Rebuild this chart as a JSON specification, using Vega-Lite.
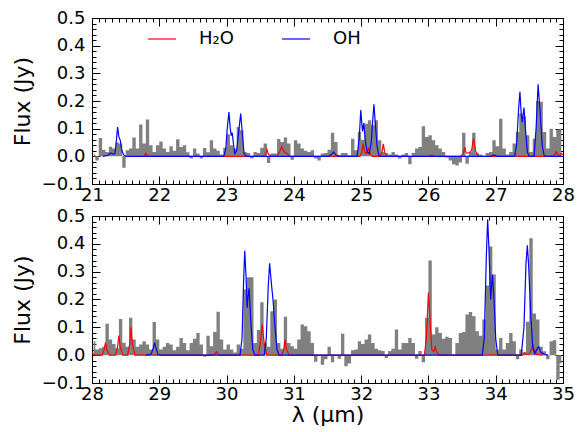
{
"$schema": "https://vega.github.io/schema/vega-lite/v6.json",
"padding": {"left": 10, "top": 8, "right": 8, "bottom": 2},
"bounds": "flush",
"spacing": 32,
"config": {
  "font": "DejaVu Sans",
  "view": {"stroke": "#000000", "strokeWidth": 1},
  "axis": {"labelFont": "DejaVu Sans", "labelFontSize": 18, "labelColor": "#000000", "tickColor": "#000000", "tickWidth": 1, "domain": false, "grid": false, "titleFont": "DejaVu Sans", "titleFontSize": 22, "titleFontWeight": "normal", "titleColor": "#000000", "labelFlush": false, "labelOverlap": false},
  "legend": {"labelFont": "DejaVu Sans", "labelFontSize": 18, "labelColor": "#000000"}
},
"resolve": {"scale": {"color": "independent"}, "legend": {"color": "independent"}},
"datasets": {
 "obs1": [
{"lam":21.025,"f":0.007},{"lam":21.075,"f":-0.015},{"lam":21.125,"f":0.066},{"lam":21.175,"f":0.024},{"lam":21.225,"f":0.016},{"lam":21.275,"f":0.035},{"lam":21.325,"f":0.028},{"lam":21.375,"f":0.05},{"lam":21.425,"f":0.046},{"lam":21.475,"f":-0.041},
{"lam":21.525,"f":0.022},{"lam":21.575,"f":0.028},{"lam":21.625,"f":0.068},{"lam":21.675,"f":0.028},{"lam":21.725,"f":0.115},{"lam":21.775,"f":0.046},{"lam":21.825,"f":0.133},{"lam":21.875,"f":0.04},{"lam":21.925,"f":0.016},{"lam":21.975,"f":0.04},
{"lam":22.025,"f":0.054},{"lam":22.075,"f":0.028},{"lam":22.125,"f":0.016},{"lam":22.175,"f":0.036},{"lam":22.225,"f":0.02},{"lam":22.275,"f":0.062},{"lam":22.325,"f":0.034},{"lam":22.375,"f":0.04},{"lam":22.425,"f":0.015},{"lam":22.475,"f":-0.008},
{"lam":22.525,"f":0.028},{"lam":22.575,"f":0.01},{"lam":22.625,"f":-0.008},{"lam":22.675,"f":0.03},{"lam":22.725,"f":0.015},{"lam":22.775,"f":0.058},{"lam":22.825,"f":0.028},{"lam":22.875,"f":0.02},{"lam":22.925,"f":0.007},{"lam":22.975,"f":0.031},
{"lam":23.025,"f":0.08},{"lam":23.075,"f":0.04},{"lam":23.125,"f":0.028},{"lam":23.175,"f":0.106},{"lam":23.225,"f":0.094},{"lam":23.275,"f":0.016},{"lam":23.325,"f":0.012},{"lam":23.375,"f":-0.008},{"lam":23.425,"f":0.016},{"lam":23.475,"f":0.012},
{"lam":23.525,"f":0.031},{"lam":23.575,"f":0.046},{"lam":23.625,"f":-0.024},{"lam":23.675,"f":0.01},{"lam":23.725,"f":0.01},{"lam":23.775,"f":0.063},{"lam":23.825,"f":0.052},{"lam":23.875,"f":0.068},{"lam":23.925,"f":0.046},{"lam":23.975,"f":-0.012},
{"lam":24.025,"f":0.058},{"lam":24.075,"f":0.046},{"lam":24.125,"f":0.028},{"lam":24.175,"f":0.02},{"lam":24.225,"f":0.016},{"lam":24.275,"f":0.022},{"lam":24.325,"f":-0.008},{"lam":24.375,"f":-0.015},{"lam":24.425,"f":0.01},{"lam":24.475,"f":0.012},
{"lam":24.525,"f":0.024},{"lam":24.575,"f":0.085},{"lam":24.625,"f":0.052},{"lam":24.675,"f":0.006},{"lam":24.725,"f":0.012},{"lam":24.775,"f":0.012},{"lam":24.825,"f":0.004},{"lam":24.875,"f":0.064},{"lam":24.925,"f":0.022},{"lam":24.975,"f":0.088},
{"lam":25.025,"f":0.06},{"lam":25.075,"f":0.118},{"lam":25.125,"f":0.13},{"lam":25.175,"f":0.112},{"lam":25.225,"f":0.13},{"lam":25.275,"f":0.058},{"lam":25.325,"f":0.016},{"lam":25.375,"f":0.012},{"lam":25.425,"f":0.007},{"lam":25.475,"f":0.016},
{"lam":25.525,"f":0.007},{"lam":25.575,"f":-0.008},{"lam":25.625,"f":0.007},{"lam":25.675,"f":0.012},{"lam":25.725,"f":-0.029},{"lam":25.775,"f":0.012},{"lam":25.825,"f":0.028},{"lam":25.875,"f":0.034},{"lam":25.925,"f":0.109},{"lam":25.975,"f":0.07},
{"lam":26.025,"f":0.076},{"lam":26.075,"f":0.058},{"lam":26.125,"f":0.04},{"lam":26.175,"f":0.028},{"lam":26.225,"f":0.016},{"lam":26.275,"f":-0.004},{"lam":26.325,"f":-0.015},{"lam":26.375,"f":-0.029},{"lam":26.425,"f":-0.033},{"lam":26.475,"f":-0.022},
{"lam":26.525,"f":0.085},{"lam":26.575,"f":-0.027},{"lam":26.625,"f":0.016},{"lam":26.675,"f":0.085},{"lam":26.725,"f":0.012},{"lam":26.775,"f":0.007},{"lam":26.825,"f":0.0},{"lam":26.875,"f":0.012},{"lam":26.925,"f":0.016},{"lam":26.975,"f":0.058},
{"lam":27.025,"f":0.036},{"lam":27.075,"f":0.136},{"lam":27.125,"f":0.028},{"lam":27.175,"f":0.007},{"lam":27.225,"f":0.016},{"lam":27.275,"f":0.046},{"lam":27.325,"f":0.088},{"lam":27.375,"f":0.155},{"lam":27.425,"f":0.145},{"lam":27.475,"f":0.076},
{"lam":27.525,"f":0.016},{"lam":27.575,"f":0.064},{"lam":27.625,"f":0.2},{"lam":27.675,"f":0.197},{"lam":27.725,"f":0.088},{"lam":27.775,"f":0.028},{"lam":27.825,"f":0.1},{"lam":27.875,"f":0.07},{"lam":27.925,"f":0.097},{"lam":27.975,"f":0.1}
 ],
 "obs2": [
{"lam":28.025,"f":0.05},{"lam":28.075,"f":0.02},{"lam":28.125,"f":0.025},{"lam":28.175,"f":0.03},{"lam":28.225,"f":0.113},{"lam":28.275,"f":0.056},{"lam":28.325,"f":0.04},{"lam":28.375,"f":0.025},{"lam":28.425,"f":0.13},{"lam":28.475,"f":0.045},
{"lam":28.525,"f":0.03},{"lam":28.575,"f":0.134},{"lam":28.625,"f":0.056},{"lam":28.675,"f":0.03},{"lam":28.725,"f":0.038},{"lam":28.775,"f":0.05},{"lam":28.825,"f":0.038},{"lam":28.875,"f":0.02},{"lam":28.925,"f":0.119},{"lam":28.975,"f":0.056},
{"lam":29.025,"f":0.02},{"lam":29.075,"f":0.03},{"lam":29.125,"f":0.044},{"lam":29.175,"f":0.038},{"lam":29.225,"f":0.018},{"lam":29.275,"f":0.03},{"lam":29.325,"f":0.062},{"lam":29.375,"f":0.044},{"lam":29.425,"f":0.018},{"lam":29.475,"f":0.044},
{"lam":29.525,"f":0.059},{"lam":29.575,"f":0.08},{"lam":29.625,"f":0.038},{"lam":29.675,"f":-0.006},{"lam":29.725,"f":0.07},{"lam":29.775,"f":0.032},{"lam":29.825,"f":0.083},{"lam":29.875,"f":0.156},{"lam":29.925,"f":0.056},{"lam":29.975,"f":0.02},
{"lam":30.025,"f":0.038},{"lam":30.075,"f":0.02},{"lam":30.125,"f":0.01},{"lam":30.175,"f":0.038},{"lam":30.225,"f":0.023},{"lam":30.275,"f":0.236},{"lam":30.325,"f":0.28},{"lam":30.375,"f":0.28},{"lam":30.425,"f":0.044},{"lam":30.475,"f":0.09},
{"lam":30.525,"f":0.19},{"lam":30.575,"f":0.044},{"lam":30.625,"f":0.03},{"lam":30.675,"f":0.158},{"lam":30.725,"f":0.2},{"lam":30.775,"f":0.044},{"lam":30.825,"f":0.023},{"lam":30.875,"f":0.138},{"lam":30.925,"f":0.044},{"lam":30.975,"f":0.032},
{"lam":31.025,"f":0.023},{"lam":31.075,"f":0.056},{"lam":31.125,"f":0.11},{"lam":31.175,"f":0.104},{"lam":31.225,"f":0.086},{"lam":31.275,"f":0.044},{"lam":31.325,"f":-0.024},{"lam":31.375,"f":0.0},{"lam":31.425,"f":-0.034},{"lam":31.475,"f":-0.015},
{"lam":31.525,"f":0.03},{"lam":31.575,"f":-0.025},{"lam":31.625,"f":0.0},{"lam":31.675,"f":-0.013},{"lam":31.725,"f":0.077},{"lam":31.775,"f":-0.04},{"lam":31.825,"f":-0.03},{"lam":31.875,"f":0.018},{"lam":31.925,"f":0.02},{"lam":31.975,"f":0.05},
{"lam":32.025,"f":0.04},{"lam":32.075,"f":0.056},{"lam":32.125,"f":0.074},{"lam":32.175,"f":0.044},{"lam":32.225,"f":0.023},{"lam":32.275,"f":0.018},{"lam":32.325,"f":0.015},{"lam":32.375,"f":-0.01},{"lam":32.425,"f":0.015},{"lam":32.475,"f":0.023},
{"lam":32.525,"f":0.092},{"lam":32.575,"f":0.02},{"lam":32.625,"f":0.044},{"lam":32.675,"f":0.044},{"lam":32.725,"f":0.062},{"lam":32.775,"f":0.044},{"lam":32.825,"f":-0.013},{"lam":32.875,"f":0.015},{"lam":32.925,"f":-0.025},{"lam":32.975,"f":0.134},
{"lam":33.025,"f":0.34},{"lam":33.075,"f":0.074},{"lam":33.125,"f":0.1},{"lam":33.175,"f":0.08},{"lam":33.225,"f":0.059},{"lam":33.275,"f":0.066},{"lam":33.325,"f":0.062},{"lam":33.375,"f":0.0},{"lam":33.425,"f":0.044},{"lam":33.475,"f":0.08},
{"lam":33.525,"f":0.083},{"lam":33.575,"f":0.146},{"lam":33.625,"f":0.155},{"lam":33.675,"f":0.14},{"lam":33.725,"f":0.086},{"lam":33.775,"f":0.07},{"lam":33.825,"f":0.128},{"lam":33.875,"f":0.25},{"lam":33.925,"f":0.39},{"lam":33.975,"f":0.29},
{"lam":34.025,"f":0.02},{"lam":34.075,"f":0.062},{"lam":34.125,"f":0.02},{"lam":34.175,"f":0.044},{"lam":34.225,"f":0.08},{"lam":34.275,"f":0.05},{"lam":34.325,"f":-0.015},{"lam":34.375,"f":0.02},{"lam":34.425,"f":0.01},{"lam":34.475,"f":0.12},
{"lam":34.525,"f":0.42},{"lam":34.575,"f":0.15},{"lam":34.625,"f":0.128},{"lam":34.675,"f":0.03},{"lam":34.725,"f":0.014},{"lam":34.775,"f":-0.015},{"lam":34.825,"f":0.05},{"lam":34.875,"f":0.054},{"lam":34.925,"f":-0.088},{"lam":34.975,"f":-0.03}
 ],
 "h1": [
{"s":"H₂O","lam":21.7,"f":0},{"s":"H₂O","lam":21.77,"f":0},{"s":"H₂O","lam":21.79,"f":0.006},{"s":"H₂O","lam":21.8,"f":0.012},{"s":"H₂O","lam":21.81,"f":0.006},{"s":"H₂O","lam":21.84,"f":0},
{"s":"H₂O","lam":23.55,"f":0},{"s":"H₂O","lam":23.58,"f":0.008},{"s":"H₂O","lam":23.6,"f":0.025},{"s":"H₂O","lam":23.62,"f":0.008},{"s":"H₂O","lam":23.66,"f":0},
{"s":"H₂O","lam":23.74,"f":0},{"s":"H₂O","lam":23.78,"f":0.012},{"s":"H₂O","lam":23.82,"f":0.035},{"s":"H₂O","lam":23.86,"f":0.014},{"s":"H₂O","lam":23.9,"f":0.01},{"s":"H₂O","lam":23.94,"f":0},
{"s":"H₂O","lam":24.98,"f":0},{"s":"H₂O","lam":25.01,"f":0.015},{"s":"H₂O","lam":25.03,"f":0.045},{"s":"H₂O","lam":25.05,"f":0.015},{"s":"H₂O","lam":25.08,"f":0.01},{"s":"H₂O","lam":25.11,"f":0.028},{"s":"H₂O","lam":25.14,"f":0.005},{"s":"H₂O","lam":25.17,"f":0},
{"s":"H₂O","lam":25.28,"f":0},{"s":"H₂O","lam":25.31,"f":0.015},{"s":"H₂O","lam":25.33,"f":0.045},{"s":"H₂O","lam":25.35,"f":0.015},{"s":"H₂O","lam":25.38,"f":0},
{"s":"H₂O","lam":26.0,"f":0},{"s":"H₂O","lam":26.05,"f":0.005},{"s":"H₂O","lam":26.1,"f":0},
{"s":"H₂O","lam":26.48,"f":0},{"s":"H₂O","lam":26.52,"f":0.012},{"s":"H₂O","lam":26.54,"f":0.033},{"s":"H₂O","lam":26.56,"f":0.012},{"s":"H₂O","lam":26.6,"f":0.012},{"s":"H₂O","lam":26.64,"f":0.02},{"s":"H₂O","lam":26.67,"f":0.065},{"s":"H₂O","lam":26.7,"f":0.02},{"s":"H₂O","lam":26.74,"f":0},
{"s":"H₂O","lam":27.85,"f":0},{"s":"H₂O","lam":27.88,"f":0.008},{"s":"H₂O","lam":27.9,"f":0.016},{"s":"H₂O","lam":27.93,"f":0.004},{"s":"H₂O","lam":27.95,"f":0.003},{"s":"H₂O","lam":27.98,"f":0.01},{"s":"H₂O","lam":28.0,"f":0.006}
 ],
 "o1": [
{"s":"OH","lam":21.16,"f":0},{"s":"OH","lam":21.24,"f":0.004},{"s":"OH","lam":21.28,"f":0.012},{"s":"OH","lam":21.31,"f":0.008},{"s":"OH","lam":21.34,"f":0.01},{"s":"OH","lam":21.36,"f":0.05},{"s":"OH","lam":21.38,"f":0.106},{"s":"OH","lam":21.4,"f":0.07},{"s":"OH","lam":21.42,"f":0.058},{"s":"OH","lam":21.44,"f":0.025},{"s":"OH","lam":21.47,"f":0.005},{"s":"OH","lam":21.5,"f":0},
{"s":"OH","lam":22.96,"f":0},{"s":"OH","lam":22.99,"f":0.03},{"s":"OH","lam":23.01,"f":0.1},{"s":"OH","lam":23.035,"f":0.16},{"s":"OH","lam":23.055,"f":0.1},{"s":"OH","lam":23.07,"f":0.075},{"s":"OH","lam":23.085,"f":0.085},{"s":"OH","lam":23.1,"f":0.05},{"s":"OH","lam":23.12,"f":0.01},{"s":"OH","lam":23.15,"f":0.02},{"s":"OH","lam":23.18,"f":0.09},{"s":"OH","lam":23.21,"f":0.155},{"s":"OH","lam":23.235,"f":0.08},{"s":"OH","lam":23.26,"f":0.01},{"s":"OH","lam":23.29,"f":0},
{"s":"OH","lam":24.52,"f":0},{"s":"OH","lam":24.565,"f":0.008},{"s":"OH","lam":24.59,"f":0.016},{"s":"OH","lam":24.62,"f":0.006},{"s":"OH","lam":24.66,"f":0},
{"s":"OH","lam":24.94,"f":0},{"s":"OH","lam":24.97,"f":0.06},{"s":"OH","lam":24.995,"f":0.167},{"s":"OH","lam":25.02,"f":0.09},{"s":"OH","lam":25.04,"f":0.12},{"s":"OH","lam":25.06,"f":0.06},{"s":"OH","lam":25.09,"f":0.016},{"s":"OH","lam":25.12,"f":0.01},{"s":"OH","lam":25.15,"f":0.05},{"s":"OH","lam":25.175,"f":0.14},{"s":"OH","lam":25.19,"f":0.188},{"s":"OH","lam":25.21,"f":0.12},{"s":"OH","lam":25.235,"f":0.04},{"s":"OH","lam":25.26,"f":0.005},{"s":"OH","lam":25.29,"f":0},
{"s":"OH","lam":26.92,"f":0},{"s":"OH","lam":26.97,"f":0.005},{"s":"OH","lam":27.02,"f":0},
{"s":"OH","lam":27.28,"f":0},{"s":"OH","lam":27.31,"f":0.04},{"s":"OH","lam":27.34,"f":0.17},{"s":"OH","lam":27.36,"f":0.233},{"s":"OH","lam":27.38,"f":0.15},{"s":"OH","lam":27.395,"f":0.124},{"s":"OH","lam":27.42,"f":0.176},{"s":"OH","lam":27.445,"f":0.09},{"s":"OH","lam":27.47,"f":0.015},{"s":"OH","lam":27.5,"f":0},
{"s":"OH","lam":27.57,"f":0},{"s":"OH","lam":27.6,"f":0.1},{"s":"OH","lam":27.63,"f":0.26},{"s":"OH","lam":27.66,"f":0.16},{"s":"OH","lam":27.69,"f":0.04},{"s":"OH","lam":27.72,"f":0.003},{"s":"OH","lam":27.75,"f":0},{"s":"OH","lam":28.0,"f":0}
 ],
 "h2": [
{"s":"H₂O","lam":28.0,"f":0.008},{"s":"H₂O","lam":28.05,"f":0},{"s":"H₂O","lam":28.15,"f":0},{"s":"H₂O","lam":28.18,"f":0.02},{"s":"H₂O","lam":28.2,"f":0.045},{"s":"H₂O","lam":28.22,"f":0.02},{"s":"H₂O","lam":28.26,"f":0},
{"s":"H₂O","lam":28.35,"f":0},{"s":"H₂O","lam":28.38,"f":0.03},{"s":"H₂O","lam":28.4,"f":0.07},{"s":"H₂O","lam":28.42,"f":0.03},{"s":"H₂O","lam":28.46,"f":0},
{"s":"H₂O","lam":28.53,"f":0},{"s":"H₂O","lam":28.56,"f":0.04},{"s":"H₂O","lam":28.58,"f":0.1},{"s":"H₂O","lam":28.6,"f":0.04},{"s":"H₂O","lam":28.64,"f":0},
{"s":"H₂O","lam":29.8,"f":0},{"s":"H₂O","lam":29.83,"f":0.006},{"s":"H₂O","lam":29.85,"f":0.012},{"s":"H₂O","lam":29.87,"f":0.006},{"s":"H₂O","lam":29.9,"f":0},
{"s":"H₂O","lam":30.47,"f":0},{"s":"H₂O","lam":30.5,"f":0.04},{"s":"H₂O","lam":30.53,"f":0.11},{"s":"H₂O","lam":30.56,"f":0.04},{"s":"H₂O","lam":30.6,"f":0},
{"s":"H₂O","lam":30.82,"f":0},{"s":"H₂O","lam":30.85,"f":0.02},{"s":"H₂O","lam":30.87,"f":0.055},{"s":"H₂O","lam":30.89,"f":0.02},{"s":"H₂O","lam":30.93,"f":0},
{"s":"H₂O","lam":32.94,"f":0},{"s":"H₂O","lam":32.97,"f":0.06},{"s":"H₂O","lam":32.99,"f":0.17},{"s":"H₂O","lam":33.0,"f":0.225},{"s":"H₂O","lam":33.02,"f":0.14},{"s":"H₂O","lam":33.05,"f":0.02},{"s":"H₂O","lam":33.08,"f":0.012},{"s":"H₂O","lam":33.1,"f":0.03},{"s":"H₂O","lam":33.12,"f":0.012},{"s":"H₂O","lam":33.16,"f":0},
{"s":"H₂O","lam":34.4,"f":0},{"s":"H₂O","lam":34.43,"f":0.01},{"s":"H₂O","lam":34.46,"f":0.002},{"s":"H₂O","lam":34.5,"f":0.004},{"s":"H₂O","lam":34.53,"f":0.02},{"s":"H₂O","lam":34.55,"f":0.04},{"s":"H₂O","lam":34.57,"f":0.02},{"s":"H₂O","lam":34.61,"f":0.003},{"s":"H₂O","lam":34.7,"f":0}
 ],
 "o2": [
{"s":"OH","lam":28.8,"f":0},{"s":"OH","lam":28.88,"f":0.004},{"s":"OH","lam":28.91,"f":0.025},{"s":"OH","lam":28.93,"f":0.045},{"s":"OH","lam":28.95,"f":0.025},{"s":"OH","lam":28.98,"f":0.003},{"s":"OH","lam":29.02,"f":0},
{"s":"OH","lam":30.2,"f":0},{"s":"OH","lam":30.23,"f":0.06},{"s":"OH","lam":30.255,"f":0.28},{"s":"OH","lam":30.27,"f":0.375},{"s":"OH","lam":30.29,"f":0.28},{"s":"OH","lam":30.305,"f":0.17},{"s":"OH","lam":30.315,"f":0.2},{"s":"OH","lam":30.335,"f":0.24},{"s":"OH","lam":30.36,"f":0.12},{"s":"OH","lam":30.39,"f":0.02},{"s":"OH","lam":30.42,"f":0},
{"s":"OH","lam":30.56,"f":0},{"s":"OH","lam":30.59,"f":0.06},{"s":"OH","lam":30.62,"f":0.25},{"s":"OH","lam":30.64,"f":0.33},{"s":"OH","lam":30.665,"f":0.26},{"s":"OH","lam":30.69,"f":0.2},{"s":"OH","lam":30.72,"f":0.1},{"s":"OH","lam":30.75,"f":0.02},{"s":"OH","lam":30.78,"f":0},
{"s":"OH","lam":33.8,"f":0},{"s":"OH","lam":33.83,"f":0.06},{"s":"OH","lam":33.86,"f":0.35},{"s":"OH","lam":33.88,"f":0.488},{"s":"OH","lam":33.9,"f":0.38},{"s":"OH","lam":33.925,"f":0.2},{"s":"OH","lam":33.95,"f":0.29},{"s":"OH","lam":33.975,"f":0.2},{"s":"OH","lam":34.0,"f":0.06},{"s":"OH","lam":34.03,"f":0},
{"s":"OH","lam":34.38,"f":0},{"s":"OH","lam":34.42,"f":0.1},{"s":"OH","lam":34.45,"f":0.33},{"s":"OH","lam":34.47,"f":0.395},{"s":"OH","lam":34.49,"f":0.32},{"s":"OH","lam":34.52,"f":0.15},{"s":"OH","lam":34.55,"f":0.03},{"s":"OH","lam":34.58,"f":0.005},{"s":"OH","lam":34.62,"f":0.025},{"s":"OH","lam":34.64,"f":0.03},{"s":"OH","lam":34.67,"f":0.01},{"s":"OH","lam":34.72,"f":0.003},{"s":"OH","lam":34.78,"f":0}
 ]
},
"vconcat": [
 {
  "width": 471, "height": 166,
  "resolve": {"axis": {"x": "independent", "y": "independent"}},
  "layer": [
   {"data": {"name": "obs1"},
    "mark": {"type": "area", "interpolate": "step", "color": "#808080", "clip": true},
    "encoding": {
     "x": {"field": "lam", "type": "quantitative", "scale": {"domain": [21, 28], "nice": false, "zero": false},
           "axis": {"orient": "bottom", "values": [21,22,23,24,25,26,27,28], "format": "d", "tickSize": -8, "labelPadding": 10, "title": null}},
     "y": {"field": "f", "type": "quantitative", "scale": {"domain": [-0.1, 0.5], "nice": false, "zero": false},
           "axis": {"orient": "left", "values": [-0.1,0,0.1,0.2,0.3,0.4,0.5], "format": ".1f", "tickSize": -8, "labelPadding": 15, "title": "Flux (Jy)", "titlePadding": 7}}
    }},
   {"data": {"name": "h1"},
    "mark": {"type": "line", "strokeWidth": 1.2, "clip": true},
    "encoding": {
     "x": {"field": "lam", "type": "quantitative", "scale": {"domain": [21, 28], "nice": false, "zero": false},
           "axis": {"orient": "top", "values": [21,22,23,24,25,26,27,28], "labels": false, "tickSize": -8, "title": null}},
     "y": {"field": "f", "type": "quantitative", "scale": {"domain": [-0.1, 0.5], "nice": false, "zero": false},
           "axis": {"orient": "right", "values": [-0.1,0,0.1,0.2,0.3,0.4,0.5], "labels": false, "tickSize": -8, "title": null}},
     "color": {"field": "s", "type": "nominal", "scale": {"domain": ["H₂O", "OH"], "range": ["#ff0000", "#0000ff"]},
               "legend": {"orient": "none", "legendX": 55, "legendY": 6, "direction": "horizontal", "title": null, "symbolType": "stroke", "symbolSize": 784, "symbolStrokeWidth": 1.2, "labelOffset": 22, "columnPadding": 45, "padding": 0}}
    }},
   {"data": {"name": "o1"},
    "mark": {"type": "line", "strokeWidth": 1.2, "clip": true},
    "encoding": {
     "x": {"field": "lam", "type": "quantitative", "scale": {"domain": [21, 28], "nice": false, "zero": false},
           "axis": {"orient": "bottom", "tickCount": 70, "labels": false, "tickSize": -4, "title": null}},
     "y": {"field": "f", "type": "quantitative", "scale": {"domain": [-0.1, 0.5], "nice": false, "zero": false},
           "axis": {"orient": "left", "tickCount": 30, "labels": false, "tickSize": -4, "title": null}},
     "color": {"field": "s", "type": "nominal"}
    }},
   {"data": {"name": "o1"},
    "mark": {"type": "point", "opacity": 0},
    "encoding": {
     "x": {"field": "lam", "type": "quantitative", "scale": {"domain": [21, 28], "nice": false, "zero": false},
           "axis": {"orient": "top", "tickCount": 70, "labels": false, "tickSize": -4, "title": null}},
     "y": {"field": "f", "type": "quantitative", "scale": {"domain": [-0.1, 0.5], "nice": false, "zero": false},
           "axis": {"orient": "right", "tickCount": 30, "labels": false, "tickSize": -4, "title": null}}
    }}
  ]
 },
 {
  "width": 471, "height": 167,
  "resolve": {"axis": {"x": "independent", "y": "independent"}},
  "layer": [
   {"data": {"name": "obs2"},
    "mark": {"type": "area", "interpolate": "step", "color": "#808080", "clip": true},
    "encoding": {
     "x": {"field": "lam", "type": "quantitative", "scale": {"domain": [28, 35], "nice": false, "zero": false},
           "axis": {"orient": "bottom", "values": [28,29,30,31,32,33,34,35], "format": "d", "tickSize": -8, "labelPadding": 10, "title": "λ (μm)", "titlePadding": 1}},
     "y": {"field": "f", "type": "quantitative", "scale": {"domain": [-0.1, 0.5], "nice": false, "zero": false},
           "axis": {"orient": "left", "values": [-0.1,0,0.1,0.2,0.3,0.4,0.5], "format": ".1f", "tickSize": -8, "labelPadding": 15, "title": "Flux (Jy)", "titlePadding": 7}}
    }},
   {"data": {"name": "h2"},
    "mark": {"type": "line", "strokeWidth": 1.2, "clip": true},
    "encoding": {
     "x": {"field": "lam", "type": "quantitative", "scale": {"domain": [28, 35], "nice": false, "zero": false},
           "axis": {"orient": "top", "values": [28,29,30,31,32,33,34,35], "labels": false, "tickSize": -8, "title": null}},
     "y": {"field": "f", "type": "quantitative", "scale": {"domain": [-0.1, 0.5], "nice": false, "zero": false},
           "axis": {"orient": "right", "values": [-0.1,0,0.1,0.2,0.3,0.4,0.5], "labels": false, "tickSize": -8, "title": null}},
     "color": {"field": "s", "type": "nominal", "scale": {"domain": ["H₂O", "OH"], "range": ["#ff0000", "#0000ff"]}, "legend": null}
    }},
   {"data": {"name": "o2"},
    "mark": {"type": "line", "strokeWidth": 1.2, "clip": true},
    "encoding": {
     "x": {"field": "lam", "type": "quantitative", "scale": {"domain": [28, 35], "nice": false, "zero": false},
           "axis": {"orient": "bottom", "tickCount": 70, "labels": false, "tickSize": -4, "title": null}},
     "y": {"field": "f", "type": "quantitative", "scale": {"domain": [-0.1, 0.5], "nice": false, "zero": false},
           "axis": {"orient": "left", "tickCount": 30, "labels": false, "tickSize": -4, "title": null}},
     "color": {"field": "s", "type": "nominal", "legend": null}
    }},
   {"data": {"name": "o2"},
    "mark": {"type": "point", "opacity": 0},
    "encoding": {
     "x": {"field": "lam", "type": "quantitative", "scale": {"domain": [28, 35], "nice": false, "zero": false},
           "axis": {"orient": "top", "tickCount": 70, "labels": false, "tickSize": -4, "title": null}},
     "y": {"field": "f", "type": "quantitative", "scale": {"domain": [-0.1, 0.5], "nice": false, "zero": false},
           "axis": {"orient": "right", "tickCount": 30, "labels": false, "tickSize": -4, "title": null}}
    }}
  ]
 }
]
}
